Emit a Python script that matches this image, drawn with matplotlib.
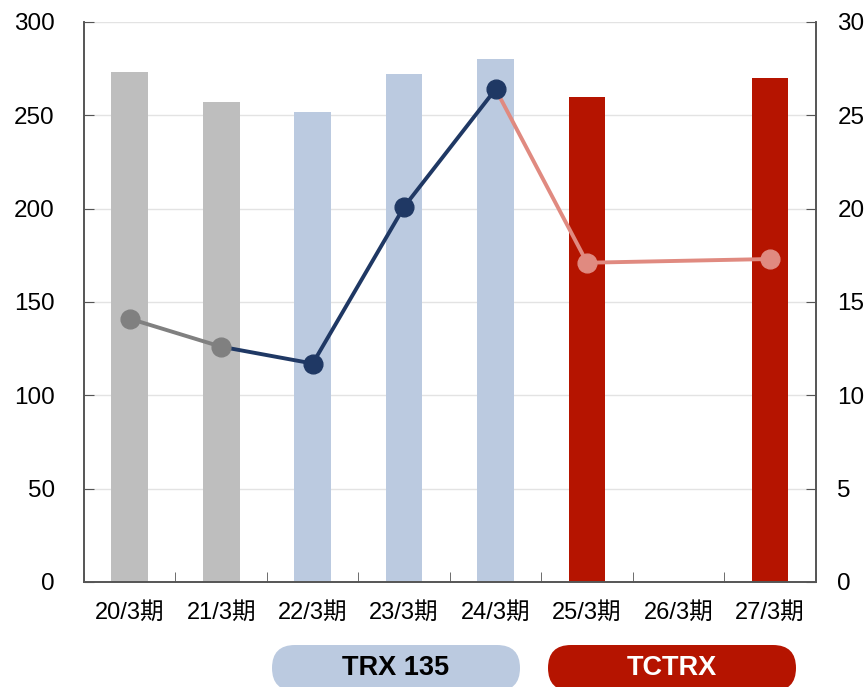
import numpy as np
import matplotlib
matplotlib.use('Agg')
import matplotlib.pyplot as plt
from matplotlib.patches import FancyBboxPatch

plt.rcParams['font.family'] = ['Liberation Sans', 'Noto Sans CJK JP']

# 期ごとのデータ
periods = ['20/3期', '21/3期', '22/3期', '23/3期', '24/3期', '25/3期', '26/3期', '27/3期']
bar_values = [273, 257, 252, 272, 280, 260, None, 270]
line_values = [14.1, 12.6, 11.7, 20.1, 26.4, 17.1, None, 17.3]
groups = ['old', 'old', 'trx', 'trx', 'trx', 'tctrx', None, 'tctrx']

bar_colors = {'old': '#BEBEBE', 'trx': '#BBCAE0', 'tctrx': '#B51400'}
line_colors = {'old': '#808080', 'trx': '#1F3864', 'tctrx': '#E08A80'}

fig = plt.figure(figsize=(8.66, 6.87), dpi=100)
ax = fig.add_axes([0.097, 0.153, 0.845, 0.815])
ax2 = ax.twinx()

x = np.arange(len(periods))

# 棒グラフ（左軸）
for i, v in enumerate(bar_values):
    if v is None:
        continue
    ax.bar(x[i], v, width=0.4, color=bar_colors[groups[i]], zorder=2)

# 折れ線（右軸）: 区間の色は終点のグループに合わせる
pts = [(i, v) for i, v in enumerate(line_values) if v is not None]
for (i0, v0), (i1, v1) in zip(pts[:-1], pts[1:]):
    ax2.plot([x[i0], x[i1]], [v0, v1], color=line_colors[groups[i1]], lw=2.8,
             solid_capstyle='round', zorder=3)
for i, v in pts:
    ax2.plot(x[i], v, 'o', color=line_colors[groups[i]], markersize=13.5, zorder=4)

ax.set_xlim(-0.5, len(periods) - 0.5)
ax.set_ylim(0, 300)
ax2.set_ylim(0, 30)
ax.set_yticks(range(0, 301, 50))
ax2.set_yticks(range(0, 31, 5))

ax.grid(axis='y', color='#E3E3E3', lw=1, zorder=0)
ax.set_axisbelow(True)

ax.set_xticks(x)
ax.set_xticklabels(periods, fontsize=17)
ax.set_xticks(np.arange(-0.5, len(periods)), minor=True)
ax.tick_params(axis='x', which='major', length=0, pad=14)
ax.tick_params(axis='x', which='minor', direction='in', length=7, color='#555555')
ax.tick_params(axis='y', direction='in', length=7, color='#555555', labelsize=17.5, pad=21)
ax2.tick_params(axis='y', direction='in', length=7, color='#555555', labelsize=17.5, pad=15.5)

for a in (ax, ax2):
    a.spines['top'].set_visible(False)
    for s in ('left', 'right', 'bottom'):
        a.spines[s].set_color('#555555')
        a.spines[s].set_linewidth(1.2)

# 凡例ラベル（ピクセル座標のオーバーレイ）
lay = fig.add_axes([0, 0, 1, 1], zorder=5)
lay.set_xlim(0, 866)
lay.set_ylim(687, 0)
lay.axis('off')
legend_items = [('TRX 135', '#BBCAE0', 'black', 272), ('TCTRX', '#B51400', 'white', 548)]
for label, fc, tc, x0 in legend_items:
    box = FancyBboxPatch((x0, 645), 248, 46,
                         boxstyle='round,pad=0,rounding_size=23',
                         facecolor=fc, edgecolor='none')
    lay.add_patch(box)
    lay.text(x0 + 124, 668, label, ha='center', va='center', fontsize=19.5,
             fontweight='bold', color=tc)

fig.savefig('out.png', dpi=100)
